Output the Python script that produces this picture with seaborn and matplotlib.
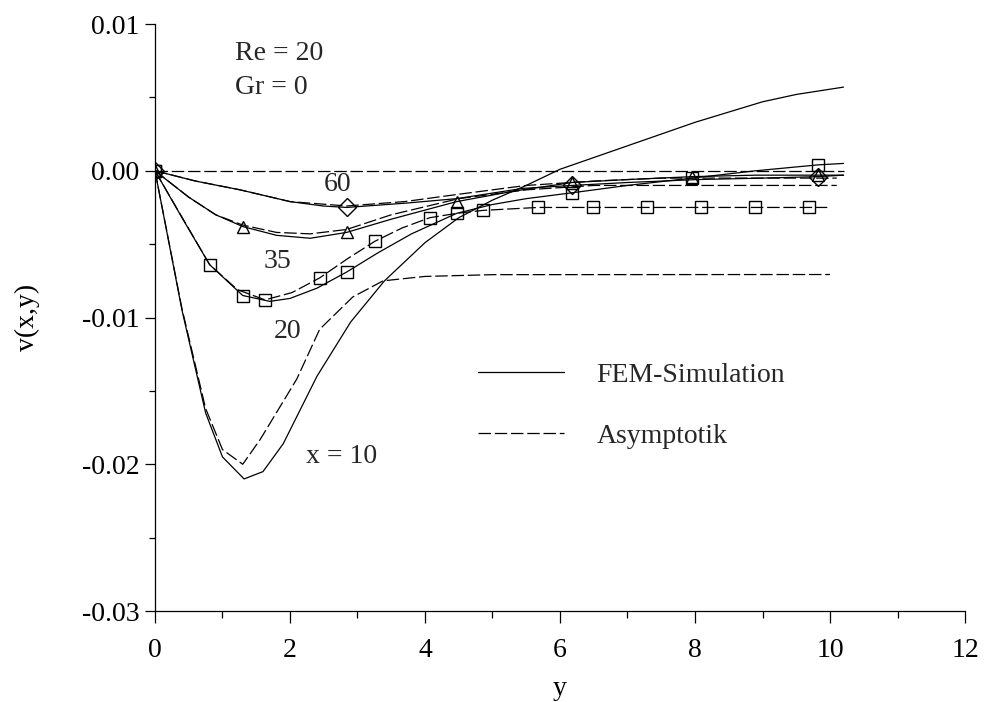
import numpy as np
import pandas as pd
import matplotlib
matplotlib.use("Agg")
import matplotlib.pyplot as plt
from matplotlib.lines import Line2D
from matplotlib.ticker import FixedLocator, FixedFormatter
import seaborn as sns

# ---- data: wall-normal velocity v(x,y) profiles, Re = 20, Gr = 0 ----
# x = 10
y10_fem = [0, 0.4, 0.75, 1.0, 1.32, 1.6, 1.9, 2.4, 2.9, 3.4, 4.0, 4.5, 5.0, 5.5,
           6.0, 6.5, 7.0, 7.5, 8.0, 8.5, 9.0, 9.5, 10.2]
v10_fem = [0, -0.0095, -0.0165, -0.0195, -0.0210, -0.0205, -0.0186, -0.0140,
           -0.0103, -0.0075, -0.0049, -0.0032, -0.0020, -0.0010, 0.0001, 0.0009,
           0.0017, 0.0025, 0.0033, 0.0040, 0.0047, 0.0052, 0.0057]
y10_asy = [0, 0.4, 0.75, 1.0, 1.3, 1.56, 2.1, 2.44, 2.93, 3.38, 4.0, 5.0, 10.0]
v10_asy = [0, -0.0094, -0.0162, -0.0190, -0.0200, -0.0183, -0.0142, -0.0108,
           -0.0086, -0.0075, -0.0072, -0.00708, -0.00707]

# x = 20
y20_fem = [0, 0.4, 0.81, 1.3, 1.7, 2.0, 2.4, 2.84, 3.3, 3.8, 4.47, 5.0, 5.5,
           6.18, 7.0, 7.96, 8.9, 9.82, 10.2]
v20_fem = [0, -0.0032, -0.0064, -0.0085, -0.0089, -0.0087, -0.0080, -0.0069,
           -0.0056, -0.0043, -0.0029, -0.0023, -0.0019, -0.0015, -0.0010,
           -0.0005, 0.0000, 0.0004, 0.0005]
y20_asy = [0, 0.81, 1.22, 1.63, 2.03, 2.44, 2.85, 3.26, 3.66, 4.07, 4.47, 4.86,
           5.67, 6.49, 7.29, 8.09, 8.89, 9.69, 9.96]
v20_asy = [0, -0.0064, -0.0081, -0.0088, -0.0083, -0.0073, -0.0060, -0.0048,
           -0.0039, -0.0032, -0.0029, -0.0027, -0.0025, -0.0025, -0.0025,
           -0.0025, -0.0025, -0.0025, -0.0025]

# x = 35
y35_fem = [0, 0.5, 0.9, 1.3, 1.8, 2.3, 2.84, 3.5, 4.47, 5.3, 6.18, 7.0, 7.96,
           8.9, 9.82, 10.2]
v35_fem = [0, -0.0018, -0.0030, -0.0038, -0.0044, -0.0046, -0.0042, -0.0033,
           -0.0021, -0.0014, -0.0008, -0.0006, -0.0004, -0.0003, -0.0003, -0.0003]
y35_asy = [0, 0.5, 0.9, 1.3, 1.8, 2.3, 2.84, 3.5, 4.5, 5.5, 6.5, 10.1]
v35_asy = [0, -0.0018, -0.0030, -0.0037, -0.0042, -0.0043, -0.0040, -0.0030,
           -0.0019, -0.0013, -0.0010, -0.0010]

# x = 60
y60_fem = [0, 0.6, 1.26, 2.0, 2.49, 2.84, 3.73, 4.47, 5.45, 6.18, 7.0, 8.03,
           9.0, 9.82, 10.2]
v60_fem = [0, -0.0007, -0.0013, -0.0021, -0.0024, -0.0025, -0.0022, -0.0019,
           -0.0012, -0.0010, -0.0008, -0.0006, -0.0005, -0.0004, -0.0003]
y60_asy = [0, 0.6, 1.26, 2.0, 2.84, 3.7, 4.5, 5.5, 6.5, 7.5, 10.1]
v60_asy = [0, -0.0007, -0.0013, -0.0021, -0.0024, -0.0021, -0.0016, -0.0010,
           -0.0007, -0.0005, -0.0005]

# positions carrying symbols
fem_nodes = [0, 1.3, 2.84, 4.47, 6.18, 7.96, 9.82]
fem60_nodes = [0, 2.84, 6.18, 9.82]
asy20_nodes = [0, 0.81, 1.63, 2.44, 3.26, 4.07, 4.86, 5.67, 6.49, 7.29, 8.09,
               8.89, 9.69]

# zero reference line
zero_y = [0, 10.2]
zero_v = [0.0, 0.0]

x_ticks = [0, 2, 4, 6, 8, 10, 12]
x_tick_labels = ["0", "2", "4", "6", "8", "10", "12"]
y_ticks = [-0.03, -0.02, -0.01, 0.00, 0.01]
y_tick_labels = ["-0.03", "-0.02", "-0.01", "0.00", "0.01"]

# ---- style ----
sns.set_theme(style="ticks")
plt.rcParams["font.family"] = ["Liberation Serif", "DejaVu Serif"]
plt.rcParams["axes.unicode_minus"] = False
FS = 20
DASH = (0, (10, 3))
LW = 0.9

fig = plt.figure(figsize=(9.84, 7.02), dpi=100)
ax = fig.add_axes([0.1575, 0.1296, 0.8232, 0.8362])


def draw(yv, vv, ls, marker=None, nodes=None):
    df = pd.DataFrame({"y": yv, "v": vv})
    kw = dict(color="black", linewidth=LW, linestyle=ls)
    if marker is not None:
        idx = [int(np.argmin(np.abs(np.asarray(yv) - n))) for n in nodes]
        kw.update(marker=marker, markevery=idx, markersize=9,
                  markerfacecolor="none", markeredgecolor="black",
                  markeredgewidth=1.0)
    sns.lineplot(data=df, x="y", y="v", ax=ax, sort=False, estimator=None,
                 legend=False, **kw)


draw(zero_y, zero_v, DASH)
draw(y10_asy, v10_asy, DASH)
draw(y20_asy, v20_asy, DASH, "s", asy20_nodes)
draw(y35_asy, v35_asy, DASH)
draw(y60_asy, v60_asy, DASH)
draw(y10_fem, v10_fem, "-")
draw(y20_fem, v20_fem, "-", "s", fem_nodes)
draw(y35_fem, v35_fem, "-", "^", fem_nodes)
draw(y60_fem, v60_fem, "-", "D", fem60_nodes)

# ---- axes ----
ax.set_xlim(0, 12)
ax.set_ylim(-0.03, 0.01)
ax.xaxis.set_major_locator(FixedLocator(x_ticks))
ax.xaxis.set_major_formatter(FixedFormatter(x_tick_labels))
ax.xaxis.set_minor_locator(FixedLocator([1, 3, 5, 7, 9, 11]))
ax.yaxis.set_major_locator(FixedLocator(y_ticks))
ax.yaxis.set_major_formatter(FixedFormatter(y_tick_labels))
ax.yaxis.set_minor_locator(FixedLocator([-0.025, -0.015, -0.005, 0.005]))
ax.tick_params(which="major", direction="out", width=0.9,
               labelsize=FS, color="black", labelcolor="black")
ax.tick_params(axis="x", which="major", length=8.6, pad=11)
ax.tick_params(axis="y", which="major", length=7, pad=4)
ax.tick_params(axis="x", which="minor", direction="out", length=5,
               width=0.9, color="black")
ax.tick_params(axis="y", which="minor", direction="out", length=4,
               width=0.9, color="black")
for side in ("left", "bottom"):
    ax.spines[side].set_color("black")
    ax.spines[side].set_linewidth(0.9)
sns.despine(ax=ax)
ax.set_facecolor("white")
fig.patch.set_facecolor("white")

ax.set_xlabel("y", fontsize=FS, color="black", labelpad=9)
ax.set_ylabel("v(x,y)", fontsize=FS, color="black", labelpad=30)

# ---- annotations ----
ax.text(1.19, 0.0080, "Re = 20", fontsize=FS, va="center", ha="left")
ax.text(1.19, 0.00565, "Gr = 0", fontsize=FS, va="center", ha="left")
ax.text(2.71, -0.00095, "60", fontsize=FS, va="center", ha="center")
ax.text(1.81, -0.0062, "35", fontsize=FS, va="center", ha="center")
ax.text(1.96, -0.01095, "20", fontsize=FS, va="center", ha="center")
ax.text(2.77, -0.01946, "x = 10", fontsize=FS, va="center", ha="center")

handles = [Line2D([], [], color="black", lw=LW, ls="-"),
           Line2D([], [], color="black", lw=LW, ls=DASH)]
ax.legend(handles, ["FEM-Simulation", "Asymptotik"], loc="upper left",
          bbox_to_anchor=(0.399, 0.424), frameon=False, fontsize=FS,
          handlelength=3.1, handletextpad=1.15, labelspacing=1.3,
          borderpad=0, borderaxespad=0)

fig.savefig("out.png", dpi=100, facecolor="white")
